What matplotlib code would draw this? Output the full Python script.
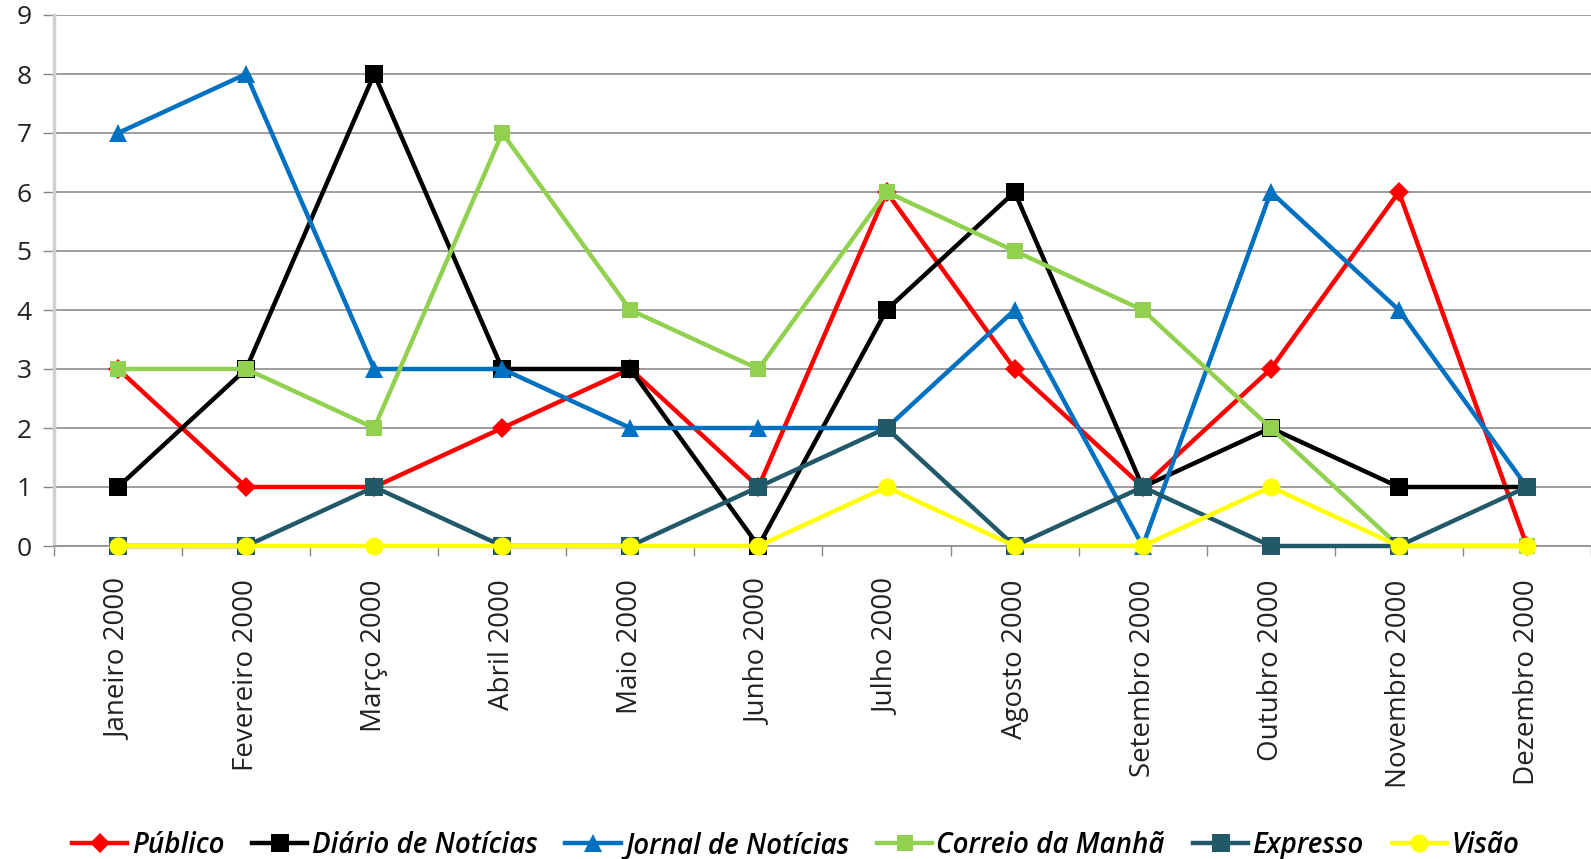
import matplotlib
matplotlib.use("Agg")
import matplotlib.pyplot as plt

months = ["Janeiro 2000", "Fevereiro 2000", "Março 2000", "Abril 2000", "Maio 2000",
          "Junho 2000", "Julho 2000", "Agosto 2000", "Setembro 2000", "Outubro 2000",
          "Novembro 2000", "Dezembro 2000"]

publico = [3, 1, 1, 2, 3, 1, 6, 3, 1, 3, 6, 0]
diario = [1, 3, 8, 3, 3, 0, 4, 6, 1, 2, 1, 1]
jornal = [7, 8, 3, 3, 2, 2, 2, 4, 0, 6, 4, 1]
correio = [3, 3, 2, 7, 4, 3, 6, 5, 4, 2, 0, 0]
expresso = [0, 0, 1, 0, 0, 1, 2, 0, 1, 0, 0, 1]
visao = [0, 0, 0, 0, 0, 0, 1, 0, 0, 1, 0, 0]

series_names = ["Público", "Diário de Notícias", "Jornal de Notícias",
                "Correio da Manhã", "Expresso", "Visão"]
series_vals = [publico, diario, jornal, correio, expresso, visao]
colors = ["#FF0000", "#000000", "#0070C0", "#92D050", "#215968", "#FFFF00"]
markers = ["D", "s", "^", "s", "s", "o"]
msizes = [10, 13, 13, 12, 13, 13]

plt.rcParams['font.family'] = ['Open Sans', 'DejaVu Sans']

fig = plt.figure(figsize=(15.91, 8.59), dpi=100)
ax = fig.add_axes([54/1591, 1 - 546/859, 1 - 54/1591, (546 - 15)/859])

x = list(range(len(months)))
for name, vals, c, m, ms in zip(series_names, series_vals, colors, markers, msizes):
    ax.plot(x, vals, color=c, marker=m, markersize=ms, linewidth=3.2,
            markeredgewidth=0, label=name, clip_on=False, zorder=3)

ax.set_xlim(-0.5, len(months) - 0.5)
ax.set_ylim(0, 9)
ax.set_yticks(range(0, 10))
ax.tick_params(axis='y', labelsize=19, length=8, color='#888888', width=1, pad=8,
               labelcolor='#222222')
ax.set_xticks(x)
ax.set_xticklabels(months, rotation=90, fontsize=20, color='#222222')
ax.set_xticks([i + 0.5 for i in range(-1, len(months))], minor=True)
ax.tick_params(axis='x', which='major', length=0, pad=24)
ax.tick_params(axis='x', which='minor', length=7, color='#888888', width=1)
ax.grid(axis='y', color='#8c8c8c', linewidth=1.2)
ax.set_axisbelow(True)
for s in ['top', 'right']:
    ax.spines[s].set_visible(False)
ax.spines['bottom'].set_color('#8c8c8c')
ax.spines['bottom'].set_linewidth(1.2)
ax.spines['left'].set_color('#d0d0d0')
ax.spines['left'].set_linewidth(2.5)

leg = fig.legend(loc='lower center', bbox_to_anchor=(0.5, -0.03), ncol=6, frameon=False,
                 prop={'style': 'italic', 'size': 20, 'weight': 'semibold'},
                 handlelength=2.0, handletextpad=0.15, columnspacing=1.0)

fig.savefig("out.png", dpi=100)
